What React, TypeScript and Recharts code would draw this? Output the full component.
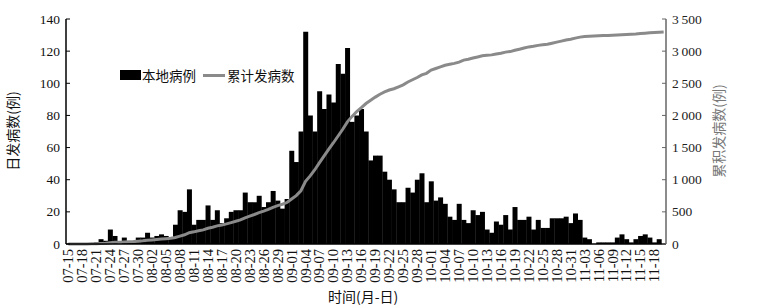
import React from "react";
import { ComposedChart, Bar, Line, XAxis, YAxis } from "recharts";

const dates = [
  "07-15","07-16","07-17","07-18","07-19","07-20","07-21","07-22","07-23","07-24","07-25","07-26","07-27","07-28","07-29","07-30","07-31",
  "08-01","08-02","08-03","08-04","08-05","08-06","08-07","08-08","08-09","08-10","08-11","08-12","08-13","08-14","08-15","08-16","08-17","08-18","08-19","08-20","08-21","08-22","08-23","08-24","08-25","08-26","08-27","08-28","08-29","08-30","08-31",
  "09-01","09-02","09-03","09-04","09-05","09-06","09-07","09-08","09-09","09-10","09-11","09-12","09-13","09-14","09-15","09-16","09-17","09-18","09-19","09-20","09-21","09-22","09-23","09-24","09-25","09-26","09-27","09-28","09-29","09-30",
  "10-01","10-02","10-03","10-04","10-05","10-06","10-07","10-08","10-09","10-10","10-11","10-12","10-13","10-14","10-15","10-16","10-17","10-18","10-19","10-20","10-21","10-22","10-23","10-24","10-25","10-26","10-27","10-28","10-29","10-30","10-31",
  "11-01","11-02","11-03","11-04","11-05","11-06","11-07","11-08","11-09","11-10","11-11","11-12","11-13","11-14","11-15","11-16","11-17","11-18","11-19","11-20"
];

const localCases = [
  0,0,0,0,0,0,1,3,2,9,5,0,4,1,1,4,4,
  7,4,5,6,5,4,12,21,20,34,12,15,15,24,15,21,13,16,20,21,21,32,26,26,30,23,26,33,27,22,28,
  58,51,70,132,80,70,95,84,93,88,112,106,122,76,80,84,70,52,55,55,45,40,34,26,26,35,32,40,44,26,
  39,27,29,25,17,15,25,15,13,21,18,20,9,7,14,12,18,9,23,15,15,17,9,15,10,10,16,16,16,17,13,
  19,15,4,3,0,1,1,1,1,4,6,3,1,3,5,6,4,1,3,0
];

const cumulative = [
  0,0,0,0,0,2,4,8,11,20,26,28,33,36,39,44,50,
  58,63,69,76,83,88,101,122,143,176,189,205,220,245,260,282,296,313,333,354,375,407,433,459,489,512,538,571,597,618,645,
  700,752,828,975,1060,1155,1265,1370,1475,1575,1680,1785,1900,1985,2060,2120,2185,2235,2285,2330,2365,2395,2415,2445,2475,2520,2555,2590,2630,2655,
  2705,2730,2755,2780,2795,2810,2830,2860,2875,2893,2910,2928,2936,2942,2955,2968,2985,2993,3013,3030,3048,3066,3075,3090,3099,3108,3124,3140,3156,3172,3185,
  3203,3218,3228,3232,3236,3239,3242,3245,3248,3252,3256,3260,3264,3268,3274,3280,3286,3290,3295,3299
];

const leftTicks = [0, 20, 40, 60, 80, 100, 120, 140];
const rightTicks = [0, 500, 1000, 1500, 2000, 2500, 3000, 3500];

const data = dates.map((d, i) => ({ d, local: localCases[i], cum: cumulative[i] }));

const FONT = "'Liberation Serif', 'Noto Sans CJK SC', serif";
const CJK = "'Noto Sans CJK SC', sans-serif";

const fmtThousands = (v: number) => {
  const s = String(v);
  return s.length > 3 ? s.slice(0, s.length - 3) + "\u2009" + s.slice(s.length - 3) : s;
};

const XTick = (props: any) => {
  const { x, y, payload } = props;
  return (
    <text
      transform={`translate(${x},${y}) rotate(-90)`}
      textAnchor="end"
      dominantBaseline="central"
      fontSize={14.5}
      fontFamily={FONT}
      fill="#111"
    >
      {payload.value}
    </text>
  );
};

const LeftTick = (props: any) => {
  const { x, y, payload } = props;
  return (
    <g>
      <line x1={x + 6} x2={x + 10} y1={y} y2={y} stroke="#000" strokeWidth={1} />
      <text x={x} y={y} textAnchor="end" dominantBaseline="central" fontSize={13.5} fontFamily={FONT} fill="#111">
        {payload.value}
      </text>
    </g>
  );
};

const RightTick = (props: any) => {
  const { x, y, payload } = props;
  return (
    <g>
      <line x1={x - 6} x2={x - 10} y1={y} y2={y} stroke="#666" strokeWidth={1} />
      <text x={x} y={y} textAnchor="start" dominantBaseline="central" fontSize={13.5} fontFamily={FONT} fill="#222">
        {fmtThousands(payload.value)}
      </text>
    </g>
  );
};

export default function App() {
  return (
    <div style={{ position: "absolute", left: 0, top: 0, width: 774, height: 306, background: "#fff" }}>
      <ComposedChart
        width={774}
        height={306}
        data={data}
        margin={{ top: 19, right: 0, bottom: 0, left: 0 }}
        barCategoryGap={0}
        barGap={0}
      >
        <XAxis
          dataKey="d"
          interval={2}
          height={62}
          tickSize={0}
          tickMargin={5}
          tick={<XTick />}
          axisLine={{ stroke: "#000", strokeWidth: 1.5 }}
          tickLine={false}
        />
        <YAxis
          yAxisId="left"
          orientation="left"
          width={66}
          domain={[0, 140]}
          ticks={leftTicks}
          tickSize={0}
          tickMargin={6}
          tick={<LeftTick />}
          tickLine={false}
          axisLine={{ stroke: "#000", strokeWidth: 1.5 }}
          interval={0}
        />
        <YAxis
          yAxisId="right"
          orientation="right"
          width={108}
          domain={[0, 3500]}
          ticks={rightTicks}
          tickSize={0}
          tickMargin={6}
          tick={<RightTick />}
          tickLine={false}
          axisLine={{ stroke: "#666", strokeWidth: 1.5 }}
          interval={0}
        />
        <Bar yAxisId="left" dataKey="local" fill="#000" isAnimationActive={false} />
        <Line
          yAxisId="right"
          dataKey="cum"
          stroke="#8a8a8a"
          strokeWidth={3}
          dot={false}
          type="linear"
          isAnimationActive={false}
        />
      </ComposedChart>

      <div style={{ position: "absolute", left: 12, top: 131, width: 0, height: 0 }}>
        <div
          style={{
            position: "absolute",
            transform: "translate(-50%, -50%) rotate(-90deg)",
            left: 0,
            top: 0,
            whiteSpace: "nowrap",
            fontFamily: CJK,
            fontSize: 14,
            color: "#111",
          }}
        >
          日发病数(例)
        </div>
      </div>
      <div style={{ position: "absolute", left: 718, top: 131, width: 0, height: 0 }}>
        <div
          style={{
            position: "absolute",
            transform: "translate(-50%, -50%) rotate(-90deg)",
            left: 0,
            top: 0,
            whiteSpace: "nowrap",
            fontFamily: CJK,
            fontSize: 14,
            color: "#777",
          }}
        >
          累积发病数(例)
        </div>
      </div>
      <div
        style={{
          position: "absolute",
          left: 328,
          top: 286,
          fontFamily: CJK,
          fontSize: 14,
          color: "#111",
          whiteSpace: "nowrap",
        }}
      >
        时间(月-日)
      </div>

      <div style={{ position: "absolute", left: 120, top: 65, display: "flex", alignItems: "center", fontFamily: CJK, fontSize: 13.5, color: "#111", whiteSpace: "nowrap" }}>
        <span style={{ display: "inline-block", width: 21, height: 10, background: "#000", marginRight: 1 }} />
        <span>本地病例</span>
        <span style={{ display: "inline-block", width: 22, height: 3, background: "#8a8a8a", marginLeft: 7, marginRight: 2 }} />
        <span>累计发病数</span>
      </div>
    </div>
  );
}
